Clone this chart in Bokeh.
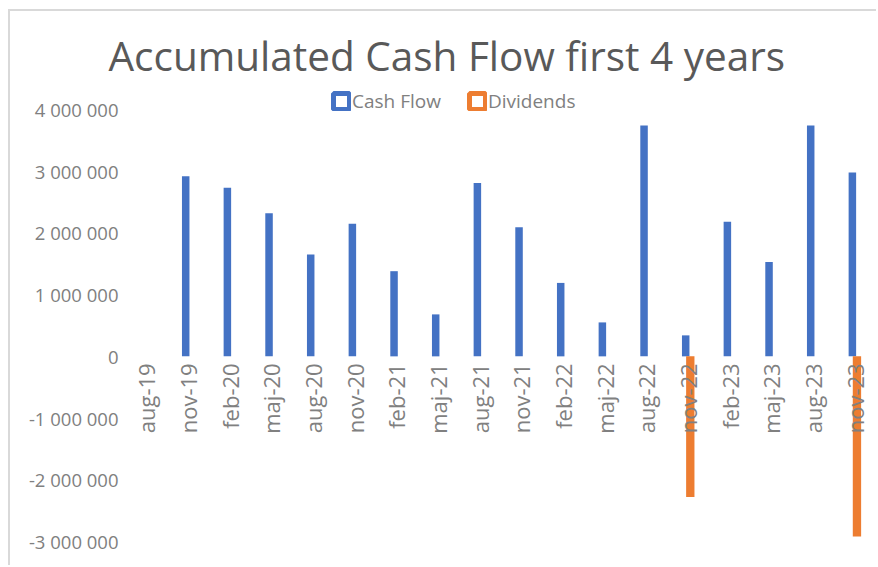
from bokeh.plotting import figure
from bokeh.models import ColumnDataSource, FactorRange, Range1d, FixedTicker, Legend, LegendItem
from bokeh.transform import dodge
from bokeh.embed import file_html
from bokeh.resources import INLINE
import math

# ---- data ----
categories = ["aug-19", "nov-19", "feb-20", "maj-20", "aug-20", "nov-20", "feb-21", "maj-21",
              "aug-21", "nov-21", "feb-22", "maj-22", "aug-22", "nov-22", "feb-23", "maj-23",
              "aug-23", "nov-23"]
cash_flow = [0, 2920000, 2730000, 2320000, 1650000, 2150000, 1380000, 680000,
             2810000, 2090000, 1190000, 550000, 3740000, 340000, 2180000, 1530000,
             3740000, 2980000]
dividends = [0, 0, 0, 0, 0, 0, 0, 0, 0, 0, 0, 0, 0, -2280000, 0, 0, 0, -2920000]
y_ticks = [-3000000, -2000000, -1000000, 0, 1000000, 2000000, 3000000, 4000000]
y_tick_labels = ["-3 000 000", "-2 000 000", "-1 000 000", "0", "1 000 000", "2 000 000",
                 "3 000 000", "4 000 000"]
title_text = "Accumulated Cash Flow first 4 years"
series_names = ["Cash Flow", "Dividends"]

BLUE = "#4472C4"
ORANGE = "#ED7D31"
GRAY = "#808080"
FONT = "Open Sans"

src = ColumnDataSource(dict(cat=categories, cf=cash_flow, dv=dividends))

p = figure(width=876, height=565, x_range=FactorRange(*categories, range_padding=0),
           y_range=Range1d(-3000000, 4405000), output_backend="svg", toolbar_location=None,
           min_border_left=125, min_border_right=1, min_border_top=84, min_border_bottom=24)

p.title.text = title_text
p.title.text_font = FONT
p.title.text_font_size = "40.5px"
p.title.text_font_style = "normal"
p.title.text_color = "#595959"
p.title.align = "left"
p.title.offset = -17
p.title.standoff = 3

p.outline_line_color = None
p.border_fill_alpha = 0
p.background_fill_alpha = 0
p.xgrid.grid_line_color = None
p.ygrid.grid_line_color = None

r1 = p.vbar(x=dodge("cat", -0.055, range=p.x_range), top="cf", bottom=0, width=0.18,
            source=src, fill_color=BLUE, line_color=None)
r2 = p.vbar(x=dodge("cat", 0.055, range=p.x_range), top="dv", bottom=0, width=0.2,
            source=src, fill_color=ORANGE, line_color=None)

# legend key glyphs (hollow squares); their single data value is NaN, so they draw nothing
key_src = ColumnDataSource(dict(x=[categories[0]], top=[float("nan")]))
k1 = p.vbar(x="x", top="top", bottom=0, width=0.1, source=key_src,
            fill_color="white", line_color=BLUE, line_width=5)
k2 = p.vbar(x="x", top="top", bottom=0, width=0.1, source=key_src,
            fill_color="white", line_color=ORANGE, line_width=5)

legend = Legend(items=[LegendItem(label=series_names[0], renderers=[k1]),
                       LegendItem(label=series_names[1], renderers=[k2])],
                orientation="horizontal", location=(206, 427),
                glyph_width=20, glyph_height=20, label_standoff=1, spacing=26,
                padding=0, margin=0, border_line_color=None, background_fill_alpha=0,
                label_text_font=FONT, label_text_font_size="19px", label_text_color=GRAY)
p.add_layout(legend, "center")

# y axis
p.yaxis.ticker = FixedTicker(ticks=y_ticks)
p.yaxis.major_label_overrides = {t: l for t, l in zip(y_ticks, y_tick_labels)}
p.yaxis.axis_line_color = None
p.yaxis.major_tick_line_color = None
p.yaxis.minor_tick_line_color = None
p.yaxis.major_tick_out = 0
p.yaxis.major_label_standoff = 7
p.yaxis.major_label_text_font = FONT
p.yaxis.major_label_text_font_size = "18.5px"
p.yaxis.major_label_text_color = GRAY

# x axis at zero
p.xaxis.fixed_location = 0
p.xaxis.axis_line_color = None
p.xaxis.major_tick_line_color = None
p.xaxis.major_tick_out = 0
p.xaxis.major_label_orientation = math.pi / 2
p.xaxis.major_label_standoff = 7
p.xaxis.major_label_text_font = FONT
p.xaxis.major_label_text_font_size = "22px"
p.xaxis.major_label_text_color = GRAY

# thin light-grey frame lines at top and left, as in the reference image
p.styles = {"box-shadow": "inset 8px 0 0 0 white, inset 0 9px 0 0 white, "
                          "inset 10px 0 0 0 #d9d9d9, inset 0 11px 0 0 #d9d9d9"}

open("out.html", "w").write(file_html(p, INLINE))
